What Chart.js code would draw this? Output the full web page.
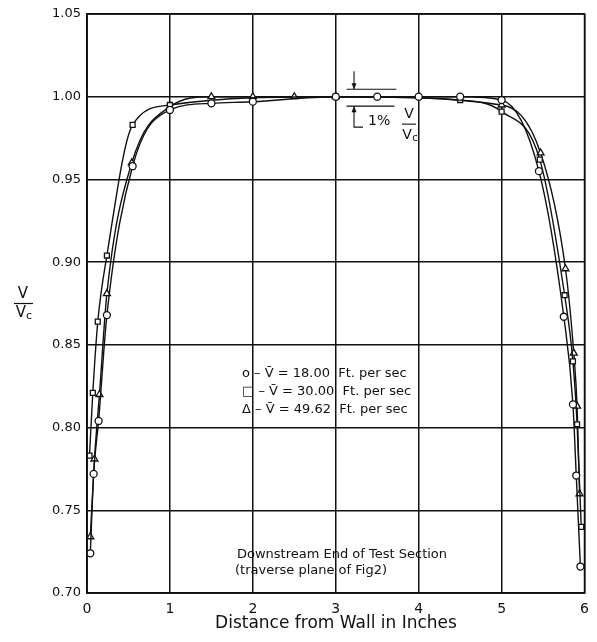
<!DOCTYPE html>
<html>
<head>
<meta charset="utf-8">
<script src="https://cdn.jsdelivr.net/npm/chart.js@4"></script>
<style>
  html, body { margin: 0; padding: 0; background: #fff; }
  #wrap { width: 597px; height: 642px; }
</style>
</head>
<body>
<div id="wrap"><canvas id="c"></canvas></div>
<script>
// distance from wall (in) and V/Vc for each run
const x18 = [0.04, 0.08, 0.14, 0.24, 0.55, 1.0, 1.5, 2.0, 3.0, 3.5, 4.0, 4.5, 5.0, 5.45, 5.75, 5.86, 5.90, 5.95];
const y18 = [0.724, 0.772, 0.804, 0.868, 0.958, 0.992, 0.996, 0.997, 1.000, 1.000, 1.000, 1.000, 0.998, 0.955, 0.867, 0.814, 0.771, 0.716];

const x30 = [0.03, 0.07, 0.13, 0.24, 0.55, 1.0, 3.0, 4.5, 5.0, 5.46, 5.76, 5.86, 5.91, 5.96];
const y30 = [0.783, 0.821, 0.864, 0.904, 0.983, 0.995, 1.000, 0.998, 0.991, 0.962, 0.880, 0.840, 0.802, 0.740];

const x50 = [0.04, 0.09, 0.15, 0.24, 0.54, 1.0, 1.5, 2.0, 2.5, 3.0, 5.0, 5.47, 5.77, 5.87, 5.91, 5.94];
const y50 = [0.734, 0.781, 0.820, 0.881, 0.960, 0.994, 1.000, 1.000, 1.000, 1.000, 0.995, 0.966, 0.896, 0.845, 0.813, 0.760];

const xTicks = [0, 1, 2, 3, 4, 5, 6];
const yTicks = [0.70, 0.75, 0.80, 0.85, 0.90, 0.95, 1.00, 1.05];

const legendLines = [
  'o \u2013 V\u0304 = 18.00  Ft. per sec',
  '\u25A1 \u2013 V\u0304 = 30.00  Ft. per sec',
  '\u0394 \u2013 V\u0304 = 49.62  Ft. per sec'
];

function pts(xs, ys) {
  return xs.map((x, i) => ({ x: x, y: ys[i] }));
}

const FONT = '"DejaVu Sans", sans-serif';

function series(label, xs, ys, style) {
  return {
    label: label,
    data: pts(xs, ys),
    borderColor: '#111',
    borderWidth: 1.4,
    backgroundColor: '#fff',
    pointStyle: style,
    pointRadius: style === 'triangle' ? 4 : 3.5,
    pointBorderWidth: 1.3,
    pointBorderColor: '#111',
    pointBackgroundColor: '#fff',
    cubicInterpolationMode: 'monotone',
    fill: false
  };
}

const textPlugin = {
  id: 'texts',
  afterDraw(chart) {
    const ctx = chart.ctx;
    const xs = chart.scales.x, ys = chart.scales.y;
    ctx.save();
    ctx.fillStyle = '#111';
    ctx.strokeStyle = '#111';

    // x axis title
    ctx.font = '17px ' + FONT;
    ctx.textAlign = 'center';
    ctx.textBaseline = 'middle';
    ctx.fillText('Distance from Wall in Inches', 336, 624);

    // y axis title as fraction
    ctx.font = '15px ' + FONT;
    ctx.fillText('V', 23, 294);
    ctx.lineWidth = 1.2;
    ctx.beginPath();
    ctx.moveTo(14, 303.5); ctx.lineTo(33, 303.5);
    ctx.stroke();
    ctx.fillText('V', 21, 313);
    ctx.font = '11px ' + FONT;
    ctx.fillText('c', 29, 316);

    // legend text
    ctx.font = '13px ' + FONT;
    ctx.textAlign = 'left';
    legendLines.forEach((t, i) => {
      ctx.fillText(t, 242, 374 + i * 18);
    });

    // bottom caption
    ctx.textAlign = 'center';
    ctx.fillText('Downstream End of Test Section', 342, 555);
    ctx.fillText('(traverse plane of Fig2)', 311, 571);

    // 1% annotation
    const x1 = xs.getPixelForValue(3.13), x2 = xs.getPixelForValue(3.73);
    const ax = xs.getPixelForValue(3.22);
    const yTop = ys.getPixelForValue(1.0045), yBot = ys.getPixelForValue(0.9943);
    ctx.lineWidth = 1.1;
    ctx.beginPath();
    ctx.moveTo(x1, yTop); ctx.lineTo(x2, yTop);
    ctx.moveTo(x1, yBot); ctx.lineTo(x2 - 2, yBot);
    ctx.moveTo(ax, yTop - 18); ctx.lineTo(ax, yTop);
    ctx.moveTo(ax, yBot); ctx.lineTo(ax, yBot + 21); ctx.lineTo(ax + 9, yBot + 21);
    ctx.stroke();
    ctx.beginPath();
    ctx.moveTo(ax - 2.5, yTop - 6); ctx.lineTo(ax + 2.5, yTop - 6); ctx.lineTo(ax, yTop);
    ctx.closePath(); ctx.fill();
    ctx.beginPath();
    ctx.moveTo(ax - 2.5, yBot + 6); ctx.lineTo(ax + 2.5, yBot + 6); ctx.lineTo(ax, yBot);
    ctx.closePath(); ctx.fill();
    ctx.font = '14px ' + FONT;
    ctx.textAlign = 'left';
    ctx.fillText('1%', ax + 14, yBot + 15);
    ctx.textAlign = 'center';
    ctx.fillText('V', ax + 55, yBot + 8);
    ctx.beginPath();
    ctx.moveTo(ax + 48, yBot + 18); ctx.lineTo(ax + 62, yBot + 18);
    ctx.stroke();
    ctx.fillText('V', ax + 53, yBot + 29);
    ctx.font = '10px ' + FONT;
    ctx.fillText('c', ax + 61, yBot + 32);
    ctx.restore();
  }
};

new Chart(document.getElementById('c'), {
  type: 'line',
  data: {
    datasets: [
      series('18.00', x18, y18, 'circle'),
      series('30.00', x30, y30, 'rect'),
      series('49.62', x50, y50, 'triangle')
    ]
  },
  options: {
    responsive: true,
    maintainAspectRatio: false,
    animation: false,
    layout: { padding: { top: 14, right: 11, left: 0, bottom: 0 } },
    plugins: { legend: { display: false }, tooltip: { enabled: false } },
    scales: {
      x: {
        type: 'linear',
        min: 0, max: 6,
        afterFit(s) { s.height = 49; },
        afterBuildTicks(s) { s.ticks = xTicks.map(v => ({ value: v })); },
        grid: { color: '#111', lineWidth: 1.5, drawTicks: false },
        border: { color: '#111', width: 1.6 },
        ticks: { color: '#111', font: { family: FONT, size: 14 }, padding: 8 }
      },
      y: {
        type: 'linear',
        min: 0.70, max: 1.05,
        afterFit(s) { s.width = 87; },
        afterBuildTicks(s) { s.ticks = yTicks.map(v => ({ value: v })); },
        grid: { color: '#111', lineWidth: 1.5, drawTicks: false },
        border: { color: '#111', width: 1.6 },
        ticks: {
          color: '#111', font: { family: FONT, size: 13 }, padding: 6,
          callback: v => v.toFixed(2)
        }
      }
    }
  },
  plugins: [textPlugin, {
    id: 'frame',
    afterDatasetsDraw(chart) {
      const a = chart.chartArea, ctx = chart.ctx;
      ctx.save();
      ctx.strokeStyle = '#111';
      ctx.lineWidth = 1.6;
      ctx.strokeRect(a.left, a.top, a.right - a.left, a.bottom - a.top);
      ctx.restore();
    }
  }]
});
</script>
</body>
</html>
